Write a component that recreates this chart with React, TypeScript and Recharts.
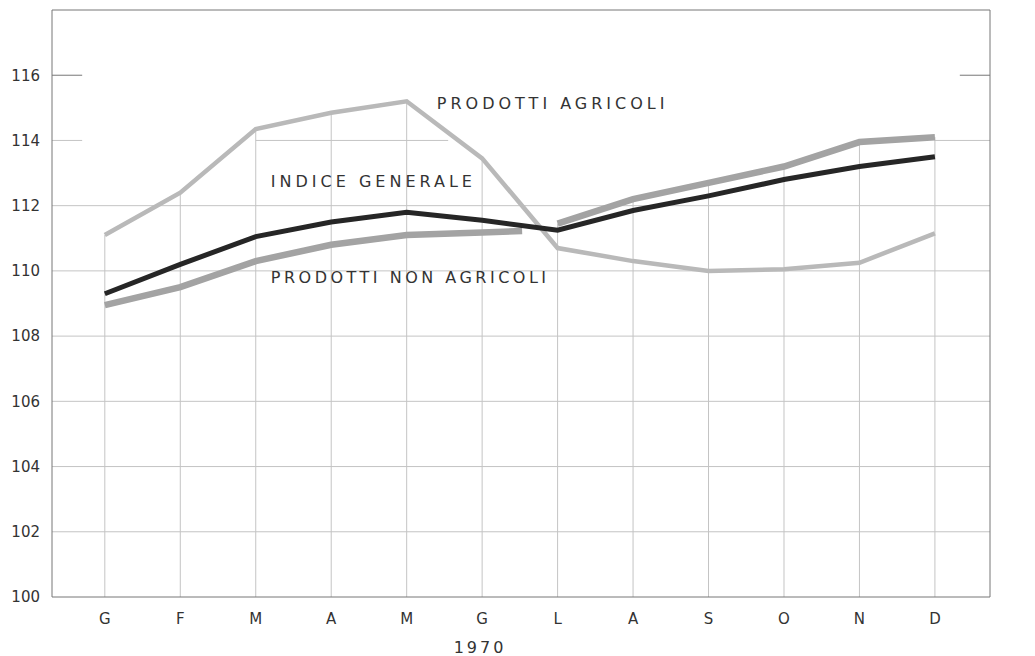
import { LineChart, Line, XAxis, YAxis, ReferenceLine, ReferenceDot } from 'recharts';

const months = ['G', 'F', 'M', 'A', 'M', 'G', 'L', 'A', 'S', 'O', 'N', 'D'];
const yTicks = [100, 102, 104, 106, 108, 110, 112, 114, 116];
const gridValues = [102, 104, 106, 108, 110, 112];

// indici 1970
const agricoli = [111.1, 112.4, 114.35, 114.85, 115.2, 113.45, 110.7, 110.3, 110.0, 110.05, 110.25, 111.15];
const generale = [109.3, 110.2, 111.05, 111.5, 111.8, 111.55, 111.25, 111.85, 112.3, 112.8, 113.2, 113.5];
// prodotti non agricoli: tratto interrotto tra G e L
const nonAgricoliA = [108.95, 109.5, 110.3, 110.8, 111.1, 111.18, 111.22];
const nonAgricoliAx = [0, 1, 2, 3, 4, 5, 5.53];
const nonAgricoliB = [111.45, 112.2, 112.7, 113.2, 113.95, 114.1];
const nonAgricoliBx = [6, 7, 8, 9, 10, 11];

const toPoints = (xs: number[], ys: number[]) => xs.map((x, i) => ({ x, v: ys[i] }));
const agrData = toPoints(months.map((_, i) => i), agricoli);
const genData = toPoints(months.map((_, i) => i), generale);
const nonAData = toPoints(nonAgricoliAx, nonAgricoliA);
const nonBData = toPoints(nonAgricoliBx, nonAgricoliB);

const colMax = months.map((_, i) => {
  const b = nonAgricoliBx.indexOf(i);
  const a = nonAgricoliAx.indexOf(i);
  return Math.max(agricoli[i], generale[i], a >= 0 ? nonAgricoliA[a] : 0, b >= 0 ? nonAgricoliB[b] : 0);
});

const FONT = '"DejaVu Sans", sans-serif';
const GRID = '#c4c4c4';
const FRAME = '#777';
const tickStyle = { fill: '#333', fontSize: 15, fontFamily: FONT };
const labelStyle = { fill: '#333', fontSize: 16, fontFamily: FONT, letterSpacing: 4 };

export default function App() {
  return (
    <div style={{ position: 'absolute', left: 0, top: 0, width: 1035, height: 656, background: '#fff' }}>
      <LineChart width={1035} height={656} margin={{ top: 10, right: 0, bottom: 0, left: 0 }}>
        <XAxis
          type="number"
          dataKey="x"
          domain={[-0.7, 11.73]}
          ticks={months.map((_, i) => i)}
          tickFormatter={(i: number) => months[i]}
          allowDataOverflow
          height={59}
          stroke={FRAME}
          tickLine={false}
          tickMargin={10}
          tick={tickStyle}
          label={{ value: '1970', position: 'insideBottom', offset: 3, dx: -41, style: { ...tickStyle, fontSize: 16, letterSpacing: 3 } }}
        />
        <YAxis
          yAxisId="l"
          domain={[100, 118]}
          ticks={yTicks}
          width={52}
          stroke={FRAME}
          tickLine={false}
          tickMargin={6}
          tick={tickStyle}
          interval={0}
        />
        <YAxis
          yAxisId="r"
          orientation="right"
          domain={[100, 118]}
          ticks={yTicks}
          width={45}
          stroke={FRAME}
          tickLine={false}
          tickMargin={5}
          tick={{ ...tickStyle, textAnchor: 'start' }}
          interval={0}
        />
        <ReferenceLine yAxisId="l" y={118} stroke={FRAME} />
        {gridValues.map((v) => (
          <ReferenceLine key={v} yAxisId="l" y={v} stroke={GRID} />
        ))}
        <ReferenceLine yAxisId="l" segment={[{ x: 2, y: 114 }, { x: 4.55, y: 114 }]} stroke={GRID} />
        <ReferenceLine yAxisId="l" segment={[{ x: -0.7, y: 114 }, { x: -0.3, y: 114 }]} stroke={GRID} />
        <ReferenceLine yAxisId="l" segment={[{ x: 11, y: 114 }, { x: 11.73, y: 114 }]} stroke={GRID} />
        <ReferenceLine yAxisId="l" segment={[{ x: -0.7, y: 116 }, { x: -0.3, y: 116 }]} stroke={FRAME} />
        <ReferenceLine yAxisId="l" segment={[{ x: 11.33, y: 116 }, { x: 11.73, y: 116 }]} stroke={FRAME} />
        {months.map((m, i) => (
          <ReferenceLine key={m + i} yAxisId="l" segment={[{ x: i, y: 100 }, { x: i, y: colMax[i] }]} stroke={GRID} />
        ))}

        <Line yAxisId="l" data={agrData} dataKey="v" type="linear" stroke="#b9b9b9" strokeWidth={4.5} dot={false} isAnimationActive={false} />
        <Line yAxisId="l" data={nonAData} dataKey="v" type="linear" stroke="#a3a3a3" strokeWidth={6.5} dot={false} isAnimationActive={false} />
        <Line yAxisId="l" data={nonBData} dataKey="v" type="linear" stroke="#a3a3a3" strokeWidth={6.5} dot={false} isAnimationActive={false} />
        <Line yAxisId="l" data={genData} dataKey="v" type="linear" stroke="#262626" strokeWidth={5} dot={false} isAnimationActive={false} />

        <ReferenceDot yAxisId="l" x={4.4} y={115.15} r={0} label={{ value: 'PRODOTTI AGRICOLI', position: 'right', offset: 0, style: labelStyle }} />
        <ReferenceDot yAxisId="l" x={2.2} y={112.75} r={0} label={{ value: 'INDICE  GENERALE', position: 'right', offset: 0, style: { ...labelStyle, letterSpacing: 4 } }} />
        <ReferenceDot yAxisId="l" x={2.2} y={109.8} r={0} label={{ value: 'PRODOTTI  NON AGRICOLI', position: 'right', offset: 0, style: { ...labelStyle, letterSpacing: 3.5 } }} />
      </LineChart>
    </div>
  );
}
